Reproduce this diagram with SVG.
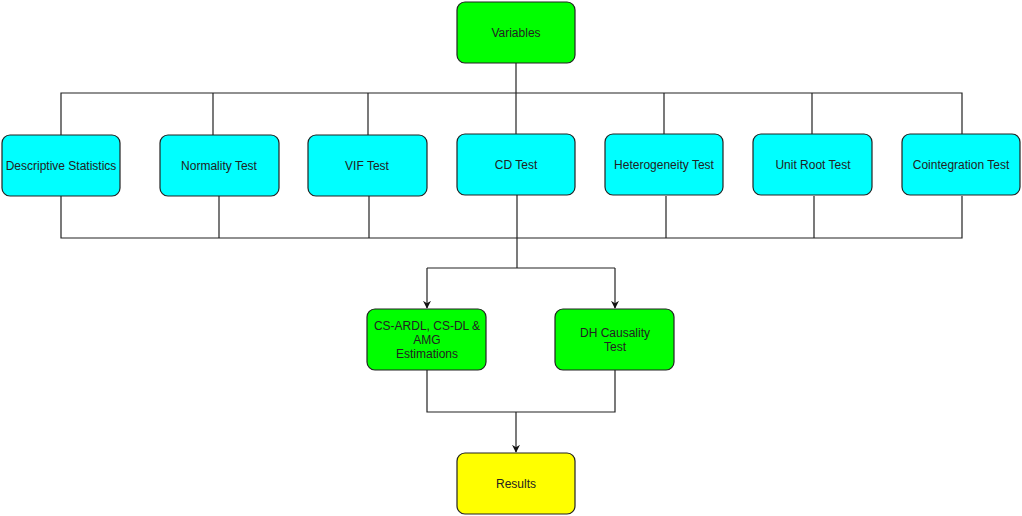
<svg xmlns="http://www.w3.org/2000/svg" width="1022" height="516" viewBox="0 0 1022 516">
<defs>
<marker id="arr" viewBox="0 0 10 10" refX="9" refY="5" markerWidth="8" markerHeight="8" markerUnits="userSpaceOnUse" orient="auto">
<path d="M0,0 L10,5 L0,10 L3,5 Z" fill="#111"/>
</marker>
<style>
.box{stroke:#222;stroke-width:1.2}
.g{fill:#00ff00}
.c{fill:#00ffff}
.y{fill:#ffff00}
text{font-family:"Liberation Sans",Arial,sans-serif;font-size:12px;fill:#222;text-anchor:middle}
.ln{fill:none;stroke:#222;stroke-width:1.2}
</style>
</defs>
<rect width="1022" height="516" fill="#fff"/>
<g id="connectors">
<path class="ln" d="M516,63 L516,135"/>
<path class="ln" d="M61,135 L61,93 L962,93 L962,135"/>
<path class="ln" d="M213,93 L213,135 M368,93 L368,135 M664,93 L664,135 M812,93 L812,135"/>
<path class="ln" d="M61,196 L61,238 L962,238 L962,196"/>
<path class="ln" d="M219,196 L219,238 M369,196 L369,238 M517,195 L517,238 M666,196 L666,238 M814,196 L814,238"/>
<path class="ln" d="M517,238 L517,268"/>
<path class="ln" d="M427,268 L615,268"/>
<path class="ln" d="M427,268 L427,308" marker-end="url(#arr)"/>
<path class="ln" d="M615,268 L615,308" marker-end="url(#arr)"/>
<path class="ln" d="M427,370 L427,412 L615,412 L615,370"/>
<path class="ln" d="M516,412 L516,452" marker-end="url(#arr)"/>
</g>
<g id="variables"><rect class="box g" x="457" y="2" width="118" height="61" rx="8"/><text x="516" y="37">Variables</text></g>
<g id="descriptive"><rect class="box c" x="2" y="135" width="118" height="61" rx="8"/><text x="61" y="170">Descriptive Statistics</text></g>
<g id="normality"><rect class="box c" x="160" y="135" width="119" height="61" rx="8"/><text x="219" y="170">Normality Test</text></g>
<g id="vif"><rect class="box c" x="308" y="135" width="119" height="61" rx="8"/><text x="367" y="170">VIF Test</text></g>
<g id="cd"><rect class="box c" x="457" y="134" width="118" height="61" rx="8"/><text x="516" y="169">CD Test</text></g>
<g id="heterogeneity"><rect class="box c" x="605" y="134" width="118" height="61" rx="8"/><text x="664" y="169">Heterogeneity Test</text></g>
<g id="unitroot"><rect class="box c" x="753" y="134" width="119" height="61" rx="8"/><text x="813" y="169">Unit Root Test</text></g>
<g id="cointegration"><rect class="box c" x="902" y="134" width="118" height="61" rx="8"/><text x="961" y="169">Cointegration Test</text></g>
<g id="csardl"><rect class="box g" x="367" y="309" width="119" height="61" rx="8"/><text x="427" y="330">CS-ARDL, CS-DL &amp;</text><text x="427" y="344">AMG</text><text x="427" y="358">Estimations</text></g>
<g id="dh"><rect class="box g" x="555" y="309" width="119" height="61" rx="8"/><text x="615" y="337">DH Causality</text><text x="615" y="351">Test</text></g>
<g id="results"><rect class="box y" x="457" y="453" width="118" height="61" rx="8"/><text x="516" y="488">Results</text></g>
</svg>
